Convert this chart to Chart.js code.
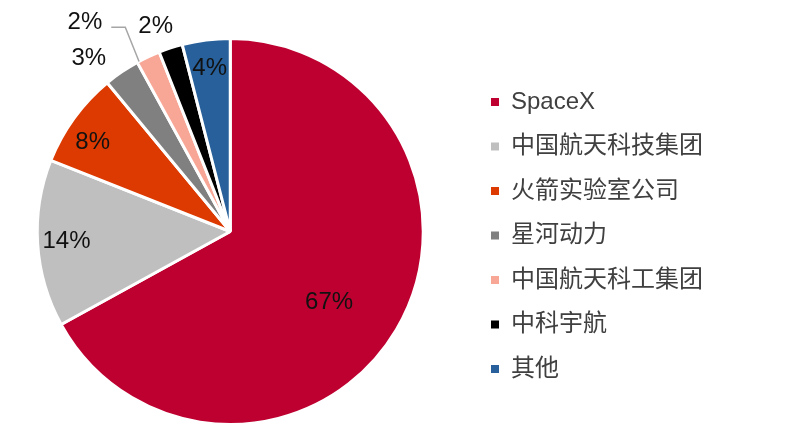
<!DOCTYPE html>
<html>
<head>
<meta charset="utf-8">
<script src="https://cdn.jsdelivr.net/npm/chart.js@4.4.1/dist/chart.umd.min.js"></script>
<style>
    html, body { margin: 0; padding: 0; background: #fff; overflow: hidden; }
    #wrap { width: 814px; height: 434px; margin-left: -10px; }
</style>
</head>
<body>
<div id="wrap"><canvas id="shareChart" width="814" height="434"></canvas></div>
<script>
// ============ 数据 ============
const companies = ['SpaceX', '中国航天科技集团', '火箭实验室公司', '星河动力', '中国航天科工集团', '中科宇航', '其他'];
const shares = [67, 14, 8, 3, 2, 2, 4];

// ============ 样式 ============
const sliceColors = ['#BE0030', '#BFBFBF', '#DC3A00', '#808080', '#F8A797', '#000000', '#27609A'];
const fontStack = '"Liberation Sans", "Noto Sans CJK SC", sans-serif';

// 百分比标签位置：相对扇区中心角的偏移(度)与半径倍数
const labelPos = [
    { shift: 5, f: 0.63 },
    { shift: 0, f: 0.85 },
    { shift: -3, f: 0.85 },
    { shift: -5, f: 1.16 },
    { leader: true, endShift: -3, elbowShift: -2, elbowF: 1.19 },
    { shift: -2, f: 1.13 },
    { shift: 0, f: 0.85 }
];

const pctLabels = {
    id: 'pctLabels',
    afterDatasetsDraw(chart) {
        const ctx = chart.ctx;
        const meta = chart.getDatasetMeta(0);
        const rad = Math.PI / 180;
        ctx.save();
        ctx.font = '24px ' + fontStack;
        ctx.fillStyle = '#111';
        ctx.textAlign = 'center';
        ctx.textBaseline = 'middle';
        meta.data.forEach((arc, i) => {
            const { x, y, startAngle, endAngle, outerRadius } =
                arc.getProps(['x', 'y', 'startAngle', 'endAngle', 'outerRadius'], true);
            const mid = (startAngle + endAngle) / 2;
            const p = labelPos[i];
            const text = shares[i] + '%';
            if (p.leader) {
                // 引导线
                const a1 = mid + p.endShift * rad;
                const a2 = mid + p.elbowShift * rad;
                const ex = x + Math.cos(a1) * outerRadius;
                const ey = y + Math.sin(a1) * outerRadius;
                const bx = x + Math.cos(a2) * outerRadius * p.elbowF;
                const by = y + Math.sin(a2) * outerRadius * p.elbowF;
                const tx = bx - 14;
                ctx.strokeStyle = '#A6A6A6';
                ctx.lineWidth = 1.5;
                ctx.beginPath();
                ctx.moveTo(ex, ey);
                ctx.lineTo(bx, by);
                ctx.lineTo(tx, by);
                ctx.stroke();
                const w = ctx.measureText(text).width;
                ctx.fillText(text, tx - 9 - w / 2, by - 5);
            } else {
                const a = mid + p.shift * rad;
                ctx.fillText(text, x + Math.cos(a) * outerRadius * p.f, y + Math.sin(a) * outerRadius * p.f);
            }
        });
        ctx.restore();
    }
};

const baseLabels = (Chart.overrides.doughnut || Chart.overrides.pie).plugins.legend.labels.generateLabels;

new Chart(document.getElementById('shareChart'), {
    type: 'pie',
    data: {
        labels: companies,
        datasets: [{
            data: shares,
            backgroundColor: sliceColors,
            borderColor: '#ffffff',
            borderWidth: 3
        }]
    },
    options: {
        responsive: false,
        animation: false,
        layout: { padding: { left: 0, right: 91, top: 37, bottom: 8 } },
        plugins: {
            tooltip: { enabled: false },
            legend: {
                position: 'right',
                title: { display: true, text: ' ', font: { size: 1, lineHeight: 1 }, padding: { top: 7, bottom: 0 } },
                labels: {
                    boxWidth: 8,
                    boxHeight: 8,
                    padding: 20.5,
                    color: '#404040',
                    font: { size: 24, family: fontStack },
                    generateLabels(chart) {
                        return baseLabels(chart).map(it => ({ ...it, lineWidth: 0 }));
                    }
                }
            }
        }
    },
    plugins: [pctLabels]
});
</script>
</body>
</html>
